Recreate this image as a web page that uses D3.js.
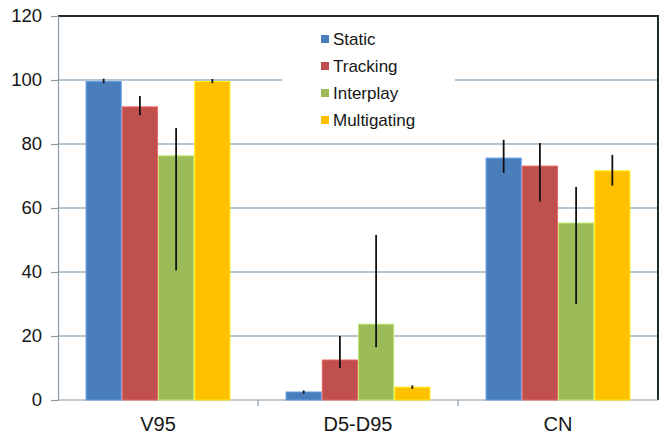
<!DOCTYPE html>
<html>
<head>
<meta charset="utf-8">
<script src="https://cdn.jsdelivr.net/npm/d3@7"></script>
<style>
  body { margin: 0; background: #fff; }
  text { font-family: "Liberation Sans", Arial, sans-serif; fill: #161616; }
</style>
</head>
<body>
<div id="chart"></div>
<script>
// categories and series
var categories = ["V95", "D5-D95", "CN"];
var series = ["Static", "Tracking", "Interplay", "Multigating"];
var colors = ["#4a7ebb", "#c0504d", "#9bbb59", "#ffc000"];

// mean values per series, one per category
var staticVals = [99.5, 2.5, 75.6];
var trackingVals = [91.6, 12.5, 73.1];
var interplayVals = [76.3, 23.7, 55.3];
var multigatingVals = [99.5, 4, 71.6];

// error bar low / high per series
var staticErr = [[99, 100.4], [2, 3], [71, 81.3]];
var trackingErr = [[89, 95], [10, 20], [62, 80.3]];
var interplayErr = [[40.5, 85], [16.5, 51.6], [30, 66.6]];
var multigatingErr = [[99, 100.3], [3.5, 4.6], [67, 76.6]];

var yTicks = [0, 20, 40, 60, 80, 100, 120];

var values = [staticVals, trackingVals, interplayVals, multigatingVals];
var errors = [staticErr, trackingErr, interplayErr, multigatingErr];

var width = 662, height = 436;
var margin = {top: 16, right: 4, bottom: 36, left: 58};

var svg = d3.select("#chart").append("svg")
  .attr("width", width)
  .attr("height", height);

var x0 = d3.scaleBand()
  .domain(categories)
  .range([margin.left, width - margin.right])
  .paddingInner(0.27)
  .paddingOuter(0.135);

// outer band covers full slot so ticks land on boundaries
var slot = d3.scaleBand()
  .domain(categories)
  .range([margin.left, width - margin.right]);

var x1 = d3.scaleBand()
  .domain(series)
  .range([0, x0.bandwidth()])
  .padding(0.03);

var y = d3.scaleLinear()
  .domain([0, 120])
  .range([height - margin.bottom, margin.top]);

// gridlines
svg.append("g")
  .selectAll("line")
  .data(yTicks.filter(function(d){ return d > 0 && d < 120; }))
  .enter()
  .append("line")
  .attr("x1", margin.left)
  .attr("x2", width - margin.right)
  .attr("y1", function(d){ return y(d); })
  .attr("y2", function(d){ return y(d); })
  .attr("stroke", "#9db3c3")
  .attr("stroke-width", 1.5);

// top and right border
svg.append("path")
  .attr("d", "M" + margin.left + "," + y(120) + "H" + (width - margin.right) + "V" + y(0))
  .attr("fill", "none")
  .attr("stroke", "#1f2a2e")
  .attr("stroke-width", 2);

// y axis
var yAxis = d3.axisLeft(y).tickValues(yTicks).tickSize(7).tickPadding(9);
var gy = svg.append("g")
  .attr("transform", "translate(" + margin.left + ",0)")
  .call(yAxis);
gy.select(".domain").attr("stroke", "#8a9aa5").attr("stroke-width", 1.2);
gy.selectAll(".tick line").attr("stroke", "#8a9aa5").attr("stroke-width", 1.2);
gy.selectAll(".tick text")
  .attr("font-size", 18.5)
  .attr("fill", "#161616")
  .style("font-family", "Liberation Sans, Arial, sans-serif");

// x axis baseline with ticks at slot boundaries
svg.append("line")
  .attr("x1", margin.left)
  .attr("x2", width - margin.right)
  .attr("y1", y(0))
  .attr("y2", y(0))
  .attr("stroke", "#8a9aa5")
  .attr("stroke-width", 1.2);

svg.append("g")
  .selectAll("line")
  .data(categories.slice(1))
  .enter()
  .append("line")
  .attr("x1", function(d){ return slot(d); })
  .attr("x2", function(d){ return slot(d); })
  .attr("y1", y(0))
  .attr("y2", y(0) + 6)
  .attr("stroke", "#8a9aa5")
  .attr("stroke-width", 1.2);

svg.append("g")
  .selectAll("text")
  .data(categories)
  .enter()
  .append("text")
  .attr("x", function(d){ return slot(d) + slot.bandwidth() / 2; })
  .attr("y", y(0) + 31)
  .attr("text-anchor", "middle")
  .attr("font-size", 20)
  .text(function(d){ return d; });

// legend background box (hides gridlines behind it)
var legend = svg.append("g").attr("transform", "translate(282,26)");
legend.append("rect")
  .attr("width", 173)
  .attr("height", 108)
  .attr("fill", "#fff");

legend.selectAll("g")
  .data(series)
  .enter()
  .append("g")
  .attr("transform", function(d, i){ return "translate(39," + (13 + i * 27) + ")"; })
  .each(function(d, i){
    var g = d3.select(this);
    g.append("rect")
      .attr("x", 0).attr("y", -4)
      .attr("width", 8).attr("height", 8)
      .attr("fill", colors[i]);
    g.append("text")
      .attr("x", 12)
      .attr("y", 0)
      .attr("dy", "0.36em")
      .attr("font-size", 17)
      .text(d);
  });

// bars
var groups = svg.append("g")
  .selectAll("g")
  .data(categories)
  .enter()
  .append("g")
  .attr("transform", function(d){ return "translate(" + x0(d) + ",0)"; });

groups.each(function(cat, ci){
  var g = d3.select(this);
  series.forEach(function(s, si){
    var v = values[si][ci];
    g.append("rect")
      .attr("x", x1(s))
      .attr("y", y(v))
      .attr("width", x1.bandwidth())
      .attr("height", y(0) - y(v))
      .attr("fill", colors[si])
      .attr("stroke", d3.color(colors[si]).brighter(0.6))
      .attr("stroke-width", 1);
  });
  series.forEach(function(s, si){
    var e = errors[si][ci];
    g.append("line")
      .attr("x1", x1(s) + x1.bandwidth() / 2)
      .attr("x2", x1(s) + x1.bandwidth() / 2)
      .attr("y1", y(e[0]))
      .attr("y2", y(e[1]))
      .attr("stroke", "#111")
      .attr("stroke-width", 1.8);
  });
});
</script>
</body>
</html>
